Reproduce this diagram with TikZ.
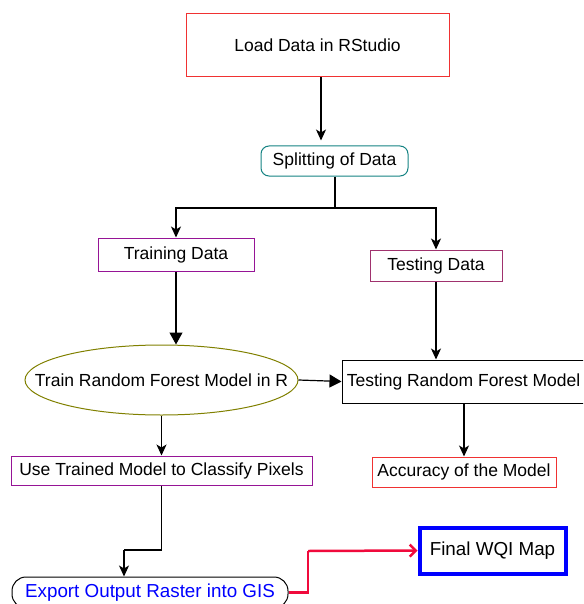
\documentclass[tikz,border=0pt]{standalone}
\usepackage{fontspec}
\setmainfont{Liberation Sans}
\usetikzlibrary{arrows.meta,shapes.geometric,positioning}
\definecolor{boxred}{RGB}{240,50,50}
\definecolor{teal2}{RGB}{20,130,130}
\definecolor{purp}{RGB}{150,20,150}
\definecolor{purp2}{RGB}{160,50,110}
\definecolor{olive2}{RGB}{128,128,0}
\definecolor{linkred}{RGB}{240,10,60}
\begin{document}
\begin{tikzpicture}[x=1pt,y=-1pt,
  every node/.style={font=\fontsize{17.5}{20}\selectfont, inner sep=0pt, align=center},
  big/.style={font=\fontsize{18.8}{21}\selectfont},
  box/.style={draw, rectangle, line width=1pt},
  conn/.style={line width=1.2pt},
  tipA/.style={-{Stealth[length=11pt,width=10pt,inset=3pt]}},
  tipB/.style={-{Triangle[length=12pt,width=13pt]}},
  tipC/.style={-{Straight Barb[length=6pt,width=12pt]}}]
\useasboundingbox (0,0) rectangle (583,604);
\clip (0,0) rectangle (583,604);
\node[box, draw=boxred, minimum width=263pt, minimum height=63pt] (load) at (317.5,45.5) {Load Data in RStudio};
\node[box, draw=teal2, rounded corners=8pt, minimum width=147pt, minimum height=30pt] (split) at (334.5,161) {Splitting of Data};
\node[box, draw=purp, minimum width=156pt, minimum height=33pt] (train) at (176,254.5) {Training Data};
\node[box, draw=purp2, minimum width=132pt, minimum height=31pt] (test) at (436,265.5) {Testing Data};
\node[draw=olive2, ellipse, line width=1pt, inner xsep=-40pt, minimum width=273pt, minimum height=70pt] (trf) at (161.5,380) {Train Random Forest Model in R};
\node[box, minimum width=243pt, minimum height=43pt] (testrf) at (463.5,381.5) {Testing Random Forest Model};
\node[box, draw=boxred, minimum width=184pt, minimum height=30pt] (acc) at (464,472) {Accuracy of the Model};
\node[box, draw=purp, minimum width=301pt, minimum height=29pt] (use) at (161.5,470.5) {Use Trained Model to Classify Pixels};
\node[box, big, rounded corners=14pt, minimum width=276pt, minimum height=31pt, text=blue] (exp) at (150,592.5) {Export Output Raster into GIS};
\node[box, big, draw=blue, line width=4pt, minimum width=146pt, minimum height=46pt] (wqi) at (492.5,550.5) {Final WQI Map};
\coordinate (fork) at (334.5,208);
\coordinate (j1) at (161.5,550);
\coordinate (j2) at (124,550);
\coordinate (r1) at (308,551);
\draw[conn, tipA, shorten >=5pt] ([xshift=3.5pt]load.south) -- ([xshift=-13.5pt]split.north);
\draw[line width=2pt] (split.south) -- (fork);
\draw[conn, tipA] (fork) -| (train.north);
\draw[conn, tipA] (fork) -| (test.north);
\draw[conn, tipB] (train.south) -- (trf.north -| train.south);
\draw[conn, tipB] (trf.east) -- (testrf.west);
\draw[conn, tipA] (test.south) -- (test.south |- testrf.north);
\draw[conn, tipA] (testrf.south -| acc.north) -- (acc.north);
\draw[conn, tipA] (trf.south) -- (use.north);
\draw[conn] (use.south) -- (j1) -- (j2);
\draw[conn, tipA] (j2) -- (j2 |- exp.north);
\draw[line width=2.5pt, draw=linkred] (exp.east) -| (r1);
\draw[line width=2.5pt, draw=linkred, tipC] (r1) -- (wqi.west);
\end{tikzpicture}
\end{document}
